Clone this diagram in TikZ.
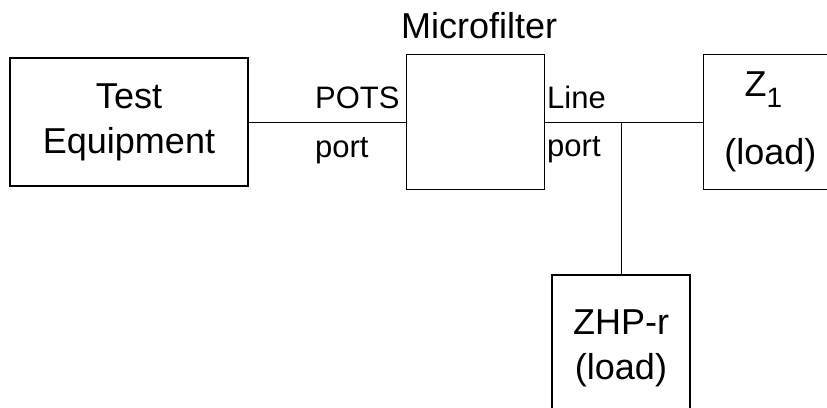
\documentclass[tikz,border=0pt]{standalone}
\usepackage{fontspec}
\setmainfont{Liberation Sans}
\usetikzlibrary{positioning}
\newcommand{\boxfont}{\fontsize{36}{47}\selectfont}
\newcommand{\portfont}{\fontsize{31}{40}\selectfont}
\tikzstyle{unit} = [rectangle, minimum width=138pt, minimum height=135pt, text centered, align=center, draw=black, line width=1.2pt, font=\boxfont]
\tikzstyle{portname} = [anchor=base west, inner sep=0pt, font=\portfont]
\tikzstyle{wire} = [line width=1pt]

\begin{document}
\begin{tikzpicture}[x=1pt, y=-1pt, node distance=157pt]
\clip (0,0) rectangle (827,407);

\node (test) [unit, minimum width=238pt, minimum height=128pt] at (129,122) {Test\\[-2pt]Equipment};
\node (filter) [unit, right=of test] {};
\node (filtername) [above=15pt of filter, xshift=4pt, inner sep=0pt, font=\boxfont] {Microfilter};
\node (zone) [unit, minimum width=134pt, right=158pt of filter] {Z\raisebox{-11pt}{\fontsize{28}{30}\selectfont 1}\kern14pt\\[21pt](load)};
\node (zhp) [unit, minimum height=147pt] at (621,348.5) {ZHP-r\\[-2pt](load)};

\node (potsa) [portname] at (315,108) {POTS};
\node (potsb) [portname] at (315,157) {port};
\node (linea) [portname] at (547,108) {Line};
\node (lineb) [portname] at (547,156) {port};

\coordinate (tap) at (621,122);

\draw [wire] (test) -- (filter);
\draw [wire] (filter) -- (zone);
\draw [wire] (tap) -- (zhp);

\end{tikzpicture}
\end{document}
